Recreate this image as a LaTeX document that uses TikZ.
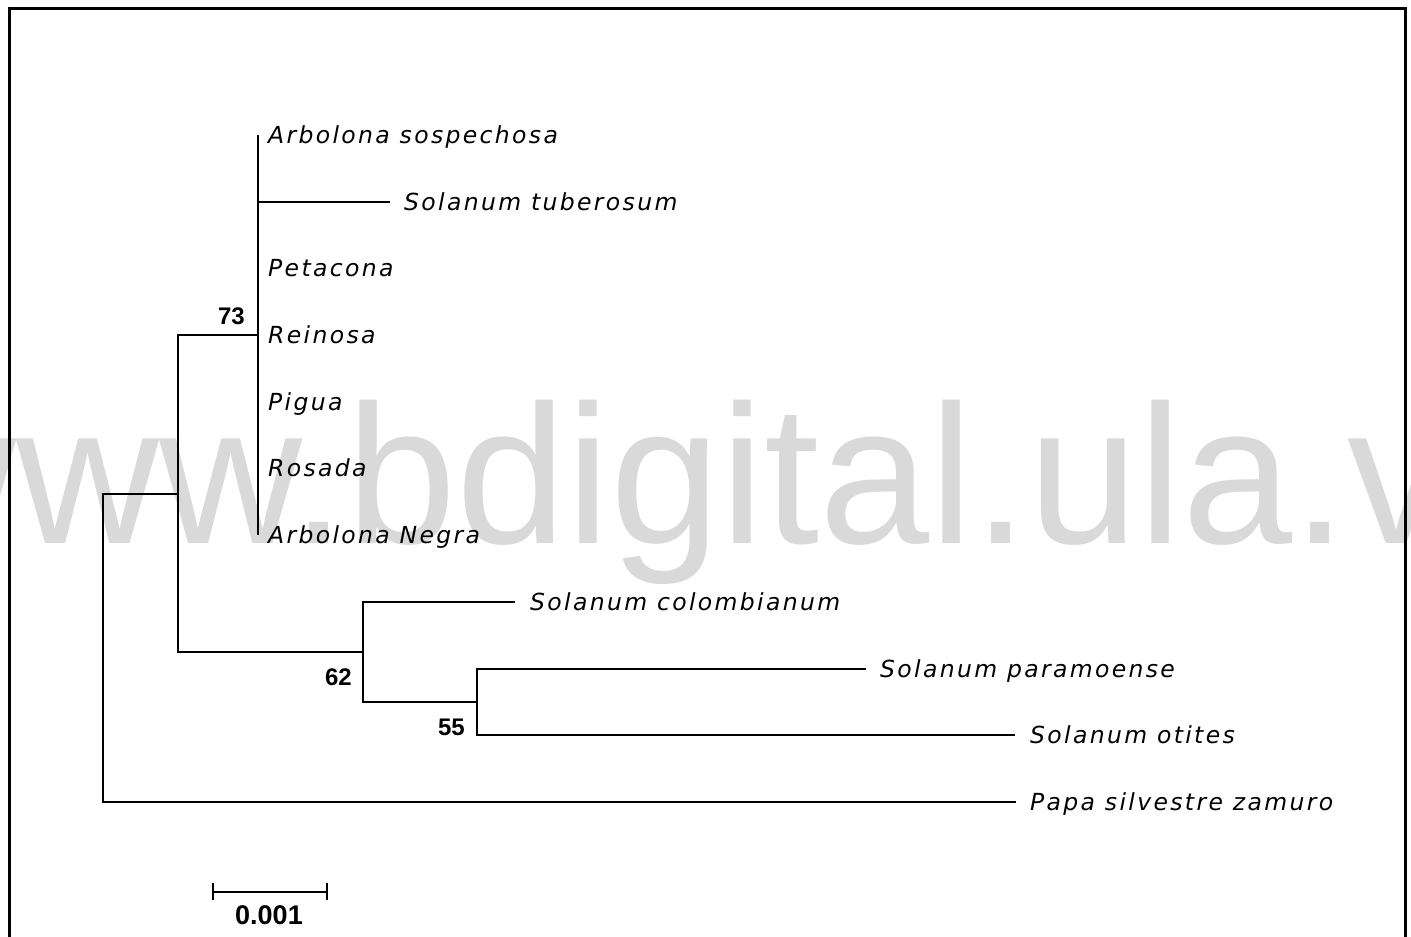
\documentclass[tikz,border=0pt]{standalone}
\usepackage{fontspec}
\setmainfont{Liberation Sans}
\newfontfamily\taxonfont[LetterSpace=10]{DejaVu Sans}
\definecolor{wmgray}{RGB}{217,217,217}
\begin{document}
\begin{tikzpicture}[x=1pt,y=-1pt,
  branch/.style={line width=2.2pt},
  taxon/.style={anchor=base west, inner sep=0pt,
    font=\taxonfont\itshape\fontsize{23.5pt}{28pt}\selectfont},
  support/.style={anchor=base east, inner sep=0pt,
    font=\bfseries\fontsize{24pt}{28pt}\selectfont},
]
\useasboundingbox (0,0) rectangle (1411,937);

% watermark and frame
\begin{scope}
  \clip (0,0) rectangle (1411,937);
  \node[anchor=base west, inner sep=0pt, text=wmgray,
        font=\fontsize{198pt}{200pt}\selectfont] (wm) at (-127,543) {www.bdigital.ula.ve};
  \draw[line width=3pt] (9,8) rectangle (1405,990);
\end{scope}

% internal nodes
\coordinate (root) at (103,648);
\coordinate (nA)   at (178,494);
\coordinate (n73)  at (258,335);
\coordinate (n62)  at (363,652);
\coordinate (n55)  at (477,702);

% tips
\coordinate (tArbS) at (258,135);
\coordinate (tTub)  at (390,202);
\coordinate (tPet)  at (258,268);
\coordinate (tRei)  at (258,335);
\coordinate (tPig)  at (258,402);
\coordinate (tRos)  at (258,468);
\coordinate (tArbN) at (258,535);
\coordinate (tCol)  at (515,602);
\coordinate (tPar)  at (866,669);
\coordinate (tOti)  at (1015,735);
\coordinate (tPap)  at (1016,802);

% branches
\draw[branch] (root) |- (nA);
\draw[branch] (root) |- (tPap);
\draw[branch] (nA) |- (n73);
\draw[branch] (nA) |- (n62);
\draw[branch] (tArbS) -- (tArbN);
\draw[branch] (n73) |- (tTub);
\draw[branch] (n62) |- (tCol);
\draw[branch] (n62) |- (n55);
\draw[branch] (n55) |- (tPar);
\draw[branch] (n55) |- (tOti);

% taxon labels
\node[taxon] (lArbS) at ([shift={(10,8.5)}]tArbS) {Arbolona sospechosa};
\node[taxon] (lTub)  at ([shift={(14,8.5)}]tTub)  {Solanum tuberosum};
\node[taxon] (lPet)  at ([shift={(10,8.5)}]tPet)  {Petacona};
\node[taxon] (lRei)  at ([shift={(10,8.5)}]tRei)  {Reinosa};
\node[taxon] (lPig)  at ([shift={(10,8.5)}]tPig)  {Pigua};
\node[taxon] (lRos)  at ([shift={(10,8.5)}]tRos)  {Rosada};
\node[taxon] (lArbN) at ([shift={(10,8.5)}]tArbN) {Arbolona Negra};
\node[taxon] (lCol)  at ([shift={(15,8.5)}]tCol)  {Solanum colombianum};
\node[taxon] (lPar)  at ([shift={(14,8.5)}]tPar)  {Solanum paramoense};
\node[taxon] (lOti)  at ([shift={(15,8.5)}]tOti)  {Solanum otites};
\node[taxon] (lPap)  at ([shift={(14,8.5)}]tPap)  {Papa silvestre zamuro};

% bootstrap support values
\node[support] (s73) at ([shift={(-13,-11)}]n73) {73};
\node[support] (s62) at ([shift={(-11,33)}]n62)  {62};
\node[support] (s55) at ([shift={(-12,33)}]n55)  {55};

% scale bar
\coordinate (sbL) at (213,892);
\coordinate (sbR) at (327,892);
\draw[branch] (sbL) -- (sbR);
\draw[branch] ([shift={(0,-9)}]sbL) -- ([shift={(0,8)}]sbL);
\draw[branch] ([shift={(0,-9)}]sbR) -- ([shift={(0,8)}]sbR);
\node[anchor=base, inner sep=0pt, font=\bfseries\fontsize{27pt}{30pt}\selectfont]
  (sbLabel) at (269,924) {0.001};
\end{tikzpicture}
\end{document}
